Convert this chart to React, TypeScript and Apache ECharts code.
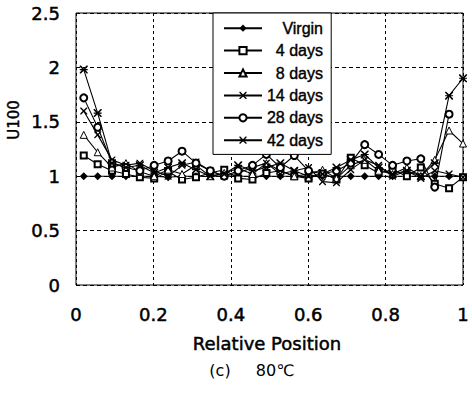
import React, { useEffect, useRef } from "react";
import * as echarts from "echarts";

// Relative position along the specimen (shared by all series)
const positions = [
  0.02, 0.056, 0.093, 0.129, 0.165, 0.202, 0.238, 0.274, 0.31, 0.347, 0.383, 0.419, 0.456, 0.492,
  0.528, 0.564, 0.601, 0.637, 0.673, 0.71, 0.746, 0.782, 0.818, 0.855, 0.891, 0.927, 0.964, 1.0,
];

const virgin = [
  1.0, 1.0, 1.0, 1.0, 1.0, 1.0, 0.99, 1.0, 1.0, 1.0, 1.0, 1.0, 1.0, 1.0,
  1.0, 1.0, 1.0, 1.0, 1.0, 1.0, 1.0, 1.0, 1.0, 1.0, 1.0, 1.0, 1.0, 1.0,
];
const days4 = [
  1.19, 1.11, 1.05, 1.02, 0.99, 0.98, 1.04, 0.97, 0.99, 1.03, 1.06, 0.98, 0.97, 1.03,
  1.05, 1.0, 0.98, 1.03, 0.97, 1.17, 1.1, 1.03, 1.06, 1.0, 1.08, 0.93, 0.89, 0.99,
];
const days8 = [
  1.38, 1.22, 1.08, 1.12, 1.04, 1.0, 1.06, 1.02, 1.1, 1.0, 1.03, 1.07, 1.02, 1.12,
  1.05, 1.0, 1.02, 1.06, 0.98, 1.1, 1.15, 1.05, 1.02, 1.08, 1.0, 1.15, 1.42, 1.3,
];
const days14 = [
  1.6, 1.38, 1.15, 1.1, 1.12, 1.05, 1.0, 1.1, 1.13, 1.05, 1.0, 1.03, 1.08, 1.12,
  1.02, 1.05, 1.08, 0.95, 0.94, 1.06, 1.15, 1.1, 1.0, 1.05, 0.98, 1.05, 1.02, 0.99,
];
const days28 = [
  1.72, 1.45, 1.12, 1.08, 1.05, 1.1, 1.14, 1.23, 1.12, 1.05, 1.0, 1.05, 1.1, 1.2,
  1.08, 1.19, 1.05, 1.02, 1.05, 1.12, 1.29, 1.2, 1.1, 1.14, 1.16, 0.9, 1.57, null,
];
const days42 = [
  1.98, 1.58, 1.12, 1.08, 1.1, 1.03, 1.08, 1.12, 1.06, 1.0, 1.02, 1.1, 1.05, 1.08,
  1.12, 1.05, 1.0, 1.02, 1.08, 1.15, 1.2, 1.08, 1.02, 1.05, 1.0, 1.12, 1.74, 1.9,
];

const seriesNames = ["Virgin", "4 days", "8 days", "14 days", "28 days", "42 days"];
const seriesValues = [virgin, days4, days8, days14, days28, days42];

const xTicks = { min: 0, max: 1, interval: 0.2 };
const yTicks = { min: 0, max: 2.5, interval: 0.5 };

const CROSS =
  "path://M0,0 L2.8,0 L10,7.2 L17.2,0 L20,0 L20,2.8 L12.8,10 L20,17.2 L20,20 L17.2,20 L10,12.8 L2.8,20 L0,20 L0,17.2 L7.2,10 L0,2.8 Z";
const ASTERISK = CROSS + " M0,8.6 L20,8.6 L20,11.4 L0,11.4 Z";

const markerStyles = [
  { symbol: "diamond", symbolSize: 8, itemStyle: { color: "#000", borderColor: "#000", borderWidth: 0 } },
  { symbol: "rect", symbolSize: 6, itemStyle: { color: "#fff", borderColor: "#000", borderWidth: 2 } },
  { symbol: "triangle", symbolSize: 7, itemStyle: { color: "#fff", borderColor: "#000", borderWidth: 1 } },
  { symbol: CROSS, symbolSize: 7, itemStyle: { color: "#000", borderColor: "#000", borderWidth: 0 } },
  { symbol: "circle", symbolSize: 7, itemStyle: { color: "#fff", borderColor: "#000", borderWidth: 2 } },
  { symbol: ASTERISK, symbolSize: 8, itemStyle: { color: "#000", borderColor: "#000", borderWidth: 0 } },
];

const SANS = "'DejaVu Sans', Verdana, sans-serif";
const LEGEND_FONT = "'Liberation Sans', Arial, sans-serif";
// a thin outline thickens the glyphs a little
const heavy = { textBorderColor: "#000", textBorderWidth: 0.5 };

export default function App() {
  const ref = useRef<HTMLDivElement>(null);

  useEffect(() => {
    if (!ref.current) return;
    const chart = echarts.init(ref.current, undefined, { renderer: "svg" });

    const series = seriesNames.map((name, i) => ({
      name,
      type: "line",
      data: positions.map((x, j) => [x, seriesValues[i][j]]),
      connectNulls: false,
      symbolKeepAspect: true,
      ...markerStyles[i],
      showAllSymbol: true,
      lineStyle: { color: "#000", width: 1.1 },
      emphasis: { disabled: true },
    }));

    chart.setOption({
      animation: false,
      backgroundColor: "#fff",
      textStyle: { fontFamily: SANS },
      grid: {
        left: 76,
        right: 9,
        top: 13,
        bottom: 112,
        show: true,
        borderColor: "#000",
        borderWidth: 1,
        backgroundColor: "transparent",
      },
      xAxis: {
        type: "value",
        ...xTicks,
        axisLine: { show: false },
        axisTick: { show: false },
        axisLabel: { color: "#000", fontSize: 18, margin: 20, fontFamily: SANS, ...heavy },
        splitLine: { show: true, lineStyle: { color: "#000", width: 1, type: [3, 3] } },
      },
      yAxis: {
        type: "value",
        ...yTicks,
        axisLine: { show: false },
        axisTick: { show: false },
        axisLabel: { color: "#000", fontSize: 18, margin: 16, fontFamily: SANS, ...heavy },
        splitLine: { show: true, lineStyle: { color: "#000", width: 1, type: [4, 3] } },
      },
      legend: {
        orient: "vertical",
        left: 213,
        top: 13,
        padding: [7, 8, 6, 10],
        itemGap: 6,
        itemWidth: 38,
        itemHeight: 9,
        borderColor: "#000",
        borderWidth: 1,
        borderRadius: 0,
        backgroundColor: "#fff",
        data: seriesNames,
        formatter: (n: string) => `{r|${n}}`,
        textStyle: {
          color: "#000",
          fontSize: 16,
          fontFamily: LEGEND_FONT,
          rich: {
            r: {
              width: 56,
              align: "right",
              fontSize: 16,
              lineHeight: 14,
              fontFamily: LEGEND_FONT,
              color: "#000",
              textBorderColor: "#000",
              textBorderWidth: 0.4,
            },
          },
        },
      },
      graphic: [
        {
          type: "text",
          x: 14,
          y: 120,
          rotation: Math.PI / 2,
          style: {
            text: "U100", fill: "#000", font: `15px ${SANS}`, align: "center", verticalAlign: "middle",
            stroke: "#000", lineWidth: 0.4,
          },
        },
        {
          type: "text",
          x: 267,
          y: 343,
          style: {
            text: "Relative Position", fill: "#000", font: `18px ${SANS}`, align: "center", verticalAlign: "middle",
            stroke: "#000", lineWidth: 0.5,
          },
        },
        {
          type: "text",
          x: 220,
          y: 370,
          style: { text: "(c)", fill: "#000", font: `16px ${SANS}`, align: "center", verticalAlign: "middle" },
        },
        {
          type: "text",
          x: 275,
          y: 370,
          style: { text: "80℃", fill: "#000", font: `16px ${SANS}`, align: "center", verticalAlign: "middle" },
        },
      ],
      series,
    });

    return () => chart.dispose();
  }, []);

  return (
    <div
      ref={ref}
      style={{ position: "absolute", left: 0, top: 0, width: 472, height: 397, background: "#fff" }}
    />
  );
}
